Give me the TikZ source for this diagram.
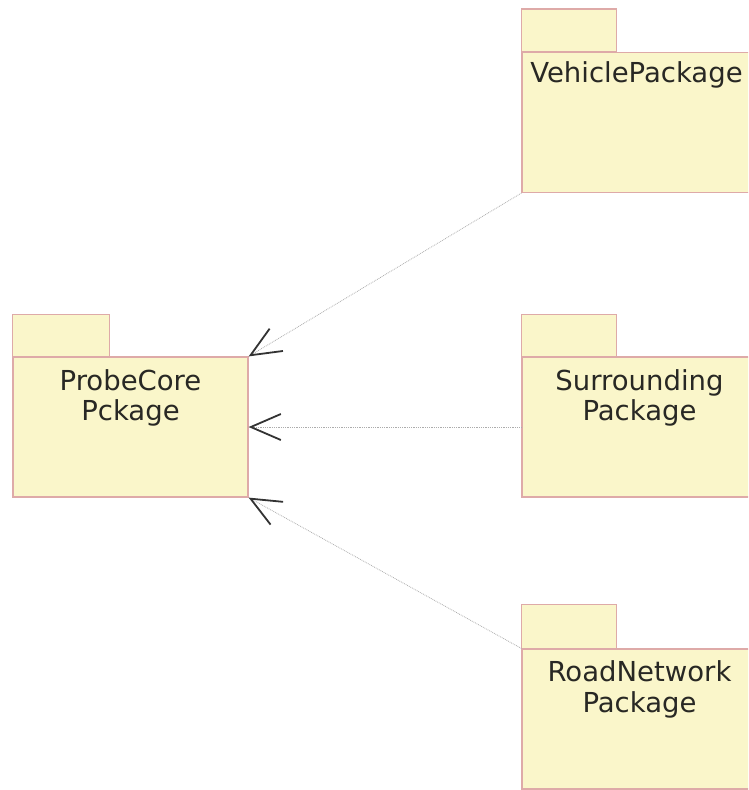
\documentclass[tikz,border=0pt]{standalone}
\usepackage{fontspec}
\setmainfont{DejaVu Sans}
\usetikzlibrary{positioning,arrows.meta}
\definecolor{pkgfill}{RGB}{250,246,202}
\definecolor{pkgline}{RGB}{222,170,168}
\definecolor{txtgray}{RGB}{40,40,36}

\tikzset{
  pkgbody/.style={draw=pkgline,fill=pkgfill,line width=1.2pt,
    minimum width=235pt,minimum height=140pt,inner sep=0pt},
  pkgtab/.style={draw=pkgline,fill=pkgfill,line width=1.2pt},
  pkglabel/.style={inner sep=0pt,align=center,text=txtgray,
    font=\fontsize{27.5}{30.5}\selectfont},
  dep/.style={gray!65,densely dotted,line width=0.8pt,
    -{Straight Barb[length=30pt,width=26pt,line width=1.8pt,color=black!80]}}
}

\begin{document}
\begin{tikzpicture}[x=1pt,y=-1pt]
  \useasboundingbox (0,0) rectangle (748,790);
  \clip (0,0) rectangle (748,790);
  % package bodies
  \node[pkgbody] (probe) at (130.5,427) {};
  \node[pkgbody] (vehicle) at (639.5,122.5) {};
  \node[pkgbody] (surround) at (639.5,427) {};
  \node[pkgbody] (road) at (639.5,719) {};
  % tabs on top
  \draw[pkgtab] (probe.north west) rectangle ++(97,-42);
  \draw[pkgtab] (vehicle.north west) rectangle ++(95,-43);
  \draw[pkgtab] (surround.north west) rectangle ++(95,-42);
  \draw[pkgtab] (road.north west) rectangle ++(95,-44);
  % names
  \node[pkglabel,below=13pt of probe.north] (probelbl) {ProbeCore\\Pckage};
  \node[pkglabel,below=10pt of vehicle.north,xshift=-3pt] (vehiclelbl) {VehiclePackage};
  \node[pkglabel,below=13pt of surround.north] (surroundlbl) {Surrounding\\Package};
  \node[pkglabel,below=12pt of road.north] (roadlbl) {RoadNetwork\\Package};
  % dependencies
  \draw[dep] (vehicle.south west) -- (probe.north east);
  \draw[dep] (surround.west) -- (probe.east);
  \draw[dep] (road.north west) -- (probe.south east);
\end{tikzpicture}
\end{document}
